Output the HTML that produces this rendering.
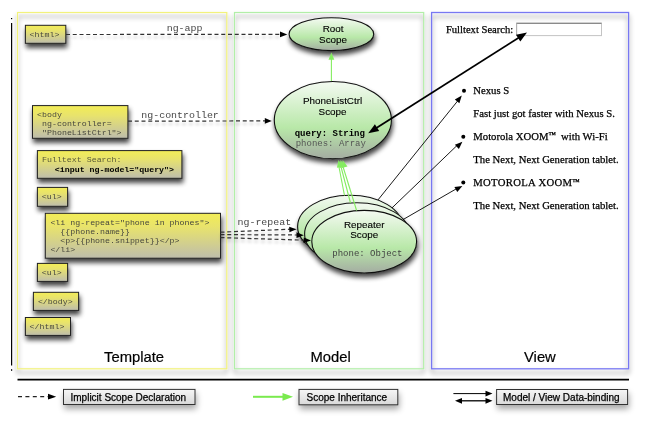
<!DOCTYPE html>
<html><head><meta charset="utf-8">
<style>
html,body{margin:0;padding:0;background:#fff;}
body{width:645px;height:425px;overflow:hidden;position:relative;}
svg{position:absolute;left:0;top:0;will-change:transform;}
.mono{font-family:"Liberation Mono",monospace;}
.sans{font-family:"Liberation Sans",sans-serif;}
.serif{font-family:"Liberation Serif",serif;}
</style></head>
<body>
<svg width="645" height="425" viewBox="0 0 645 425">
<defs>
  <linearGradient id="yg" x1="0" y1="0" x2="0" y2="1">
    <stop offset="0" stop-color="#f3ed56"/>
    <stop offset="0.3" stop-color="#e8e36c"/>
    <stop offset="1" stop-color="#bebdac"/>
  </linearGradient>
  <linearGradient id="gg" x1="0" y1="0" x2="0" y2="1">
    <stop offset="0" stop-color="#f4faf2"/>
    <stop offset="0.6" stop-color="#b8e8a8"/>
    <stop offset="1" stop-color="#a4aca2"/>
  </linearGradient>
  <linearGradient id="lg" x1="0" y1="0" x2="0" y2="1">
    <stop offset="0" stop-color="#f6f6f6"/>
    <stop offset="1" stop-color="#d9d9d9"/>
  </linearGradient>
  <filter id="sh" x="-30%" y="-30%" width="160%" height="180%">
    <feGaussianBlur in="SourceAlpha" stdDeviation="2.6"/>
    <feOffset dx="1" dy="3.5" result="b"/>
    <feComponentTransfer in="b" result="c"><feFuncA type="linear" slope="0.75"/></feComponentTransfer>
    <feMerge><feMergeNode in="c"/><feMergeNode in="SourceGraphic"/></feMerge>
  </filter>
  <filter id="psh" x="-10%" y="-10%" width="120%" height="120%">
    <feGaussianBlur in="SourceAlpha" stdDeviation="2.5"/>
    <feOffset dx="0" dy="4" result="b"/>
    <feComponentTransfer in="b" result="c"><feFuncA type="linear" slope="0.5"/></feComponentTransfer>
    <feMerge><feMergeNode in="c"/><feMergeNode in="SourceGraphic"/></feMerge>
  </filter>
  <filter id="lsh" x="-10%" y="-50%" width="120%" height="200%">
    <feGaussianBlur in="SourceAlpha" stdDeviation="1.5"/>
    <feOffset dx="0" dy="3" result="b"/>
    <feComponentTransfer in="b" result="c"><feFuncA type="linear" slope="0.25"/></feComponentTransfer>
    <feMerge><feMergeNode in="c"/><feMergeNode in="SourceGraphic"/></feMerge>
  </filter>
  <filter id="gsh" x="-30%" y="-60%" width="160%" height="250%">
    <feGaussianBlur in="SourceAlpha" stdDeviation="3"/>
    <feOffset dx="1" dy="4" result="b"/>
    <feComponentTransfer in="b" result="c"><feFuncA type="linear" slope="0.35"/></feComponentTransfer>
    <feMerge><feMergeNode in="c"/><feMergeNode in="SourceGraphic"/></feMerge>
  </filter>
  <marker id="ah" viewBox="0 0 10 10" refX="10" refY="5" markerWidth="8" markerHeight="6" orient="auto" markerUnits="userSpaceOnUse">
    <path d="M0,0 L10,5 L0,10 z" fill="#000"/>
  </marker>
</defs>

<!-- left bracket line -->
<line x1="11.6" y1="22.9" x2="11.6" y2="365.6" stroke="#000" stroke-width="1.2"/>
<rect x="11" y="18" width="1.2" height="1.2" fill="#000"/>
<rect x="11" y="369.2" width="1.2" height="1.6" fill="#000"/>

<!-- panels -->
<g filter="url(#psh)" fill="none" stroke-width="1.2">
  <rect x="17.5" y="12.5" width="209.3" height="356.3" stroke="#f2f27c"/>
  <rect x="234.5" y="12.5" width="189.2" height="356.3" stroke="#b2eea8"/>
  <rect x="431.6" y="12.5" width="197" height="356.3" stroke="#7878f2" stroke-width="1.3"/>
</g>

<!-- panel titles -->
<text x="104" y="361.7" class="sans" font-size="14.8" fill="#000" stroke="#000" stroke-width="0.2">Template</text>
<text x="310.5" y="361.7" class="sans" font-size="14.8" fill="#000" stroke="#000" stroke-width="0.2">Model</text>
<text x="524" y="361.7" class="sans" font-size="14.8" fill="#000" stroke="#000" stroke-width="0.2">View</text>

<!-- bottom rule -->
<line x1="17.5" y1="379.6" x2="629" y2="379.6" stroke="#000" stroke-width="1.6"/>

<!-- template boxes -->
<g filter="url(#sh)" fill="url(#yg)" stroke="#222" stroke-width="1">
  <rect x="25.4" y="25.3" width="40.4" height="18"/>
  <rect x="32.5" y="105.6" width="95.4" height="32.7"/>
  <rect x="37.4" y="150.6" width="144.5" height="27.7"/>
  <rect x="37.4" y="187.4" width="30.2" height="18.9"/>
  <rect x="45.3" y="213.3" width="175.2" height="44.9"/>
  <rect x="37.4" y="263.4" width="30.2" height="18"/>
  <rect x="33.4" y="292.3" width="45.2" height="18.1"/>
  <rect x="25.4" y="317.5" width="45.1" height="17.9"/>
</g>
<g class="mono" font-size="8.3" fill="#48483e">
  <text transform="translate(29.6,36.9) scale(1,0.9)" x="0" y="0">&lt;html&gt;</text>
  <text transform="translate(37.1,117) scale(1,0.9)" x="0" y="0" xml:space="preserve">&lt;body</text>
  <text transform="translate(37.1,125.7) scale(1,0.9)" x="0" y="0" xml:space="preserve"> ng-controller=</text>
  <text transform="translate(37.1,134.6) scale(1,0.9)" x="0" y="0" xml:space="preserve"> "PhoneListCtrl"&gt;</text>
  <text transform="translate(42,162) scale(1,0.9)" x="0" y="0" fill="#5a5a3a">Fulltext Search:</text>
  <text transform="translate(54.8,171.6) scale(1,0.9)" x="0" y="0" font-weight="bold" fill="#000">&lt;input ng-model="query"&gt;</text>
  <text transform="translate(41.8,199) scale(1,0.9)" x="0" y="0">&lt;ul&gt;</text>
  <text transform="translate(50.4,224.9) scale(1,0.9)" x="0" y="0" xml:space="preserve">&lt;li ng-repeat="phone in phones"&gt;</text>
  <text transform="translate(50.4,234) scale(1,0.9)" x="0" y="0" xml:space="preserve">  {{phone.name}}</text>
  <text transform="translate(50.4,242.9) scale(1,0.9)" x="0" y="0" xml:space="preserve">  &lt;p&gt;{{phone.snippet}}&lt;/p&gt;</text>
  <text transform="translate(50.4,251.6) scale(1,0.9)" x="0" y="0" xml:space="preserve">&lt;/li&gt;</text>
  <text transform="translate(41.8,275) scale(1,0.9)" x="0" y="0">&lt;ul&gt;</text>
  <text transform="translate(37.9,303.8) scale(1,0.9)" x="0" y="0">&lt;/body&gt;</text>
  <text transform="translate(29.6,328.5) scale(1,0.9)" x="0" y="0">&lt;/html&gt;</text>
</g>

<!-- ellipses -->
<g filter="url(#sh)" stroke="#111" stroke-width="1.1" fill="url(#gg)">
  <ellipse cx="331.4" cy="34.2" rx="42.3" ry="16.4"/>
  <ellipse cx="332.85" cy="120.1" rx="58.55" ry="38.6"/>
  <ellipse cx="350" cy="226.5" rx="52.4" ry="31.3"/>
  <ellipse cx="357" cy="234" rx="52.4" ry="31.3"/>
  <ellipse cx="364.2" cy="241.7" rx="52.4" ry="31.3"/>
</g>
<g class="sans" font-size="9.9" fill="#000" stroke="#000" stroke-width="0.12" text-anchor="middle">
  <text x="333.1" y="31.7">Root</text>
  <text x="333.1" y="42.6">Scope</text>
  <text x="332.6" y="104">PhoneListCtrl</text>
  <text x="332.6" y="115.3">Scope</text>
  <text x="364.2" y="227.8">Repeater</text>
  <text x="364.2" y="238.4">Scope</text>
</g>
<g class="mono" font-size="9">
  <text x="294.7" y="136.4" font-weight="bold" fill="#000">query: String</text>
  <text x="295.7" y="146" fill="#555">phones: Array</text>
  <text x="332.3" y="256.2" fill="#444">phone: Object</text>
</g>

<!-- dashed connectors -->
<g stroke="#333" stroke-width="1.2" stroke-dasharray="4,2.75" fill="none" filter="url(#lsh)">
  <line x1="66" y1="34.5" x2="281" y2="34.4"/>
  <line x1="128" y1="121.2" x2="266" y2="120.9"/>
  <line x1="220.5" y1="232.2" x2="290" y2="229.2"/>
  <line x1="220.5" y1="234.6" x2="297" y2="235"/>
  <line x1="220.5" y1="237.6" x2="305" y2="240.2"/>
</g>
<g fill="#000">
  <path d="M287.3,34.4 L280.0,37.2 L280.0,31.6 z"/>
  <path d="M271.8,120.9 L264.8,123.8 L264.8,118.0 z"/>
  <path d="M296.6,229.2 L289.4,232.3 L289.2,226.7 z"/>
  <path d="M303.8,235.2 L296.5,237.9 L296.5,232.3 z"/>
  <path d="M311.0,240.4 L303.6,243.0 L303.8,237.4 z"/>
</g>
<g class="mono" font-size="9.95" fill="#484848">
  <text x="166.7" y="31">ng-app</text>
  <text x="141.3" y="117.7">ng-controller</text>
  <text x="237.5" y="224.7">ng-repeat</text>
</g>

<!-- green inheritance arrows -->
<g stroke="#84ec60" stroke-width="1.1">
  <line x1="331.4" y1="81" x2="331.4" y2="58"/>
  <line x1="344.5" y1="195.5" x2="338.8" y2="166"/>
  <line x1="350.5" y1="203" x2="340.8" y2="166"/>
  <line x1="356.6" y1="210.5" x2="342.8" y2="166"/>
</g>
<g fill="#84ec60">
  <path d="M331.4,52.4 L334.3,59.8 L328.5,59.8 z"/>
  <path d="M338.5,160.0 L342.6,166.8 L336.9,167.8 z"/>
  <path d="M340.6,160.0 L345.1,166.6 L339.4,167.9 z"/>
  <path d="M342.7,160.0 L347.5,166.4 L341.9,167.9 z"/>
</g>

<!-- view content -->
<text x="445.9" y="32.5" class="serif" font-size="10.6" fill="#000" stroke="#000" stroke-width="0.25">Fulltext Search:</text>
<rect x="516.5" y="23.1" width="85" height="12.5" fill="#fff" stroke="#c4c4c4" stroke-width="1"/>
<line x1="516.5" y1="23.4" x2="601.5" y2="23.4" stroke="#8a8a8a" stroke-width="1.1"/>
<line x1="516.7" y1="23.1" x2="516.7" y2="35.6" stroke="#a8a8a8" stroke-width="0.8"/>
<g class="serif" font-size="10.7" fill="#000" stroke="#000" stroke-width="0.25">
  <text x="473.3" y="93.8">Nexus S</text>
  <text x="473.3" y="116.5">Fast just got faster with Nexus S.</text>
  <text x="473.3" y="139.8" xml:space="preserve">Motorola XOOM<tspan font-size="7.5" dy="-2.5">™</tspan><tspan dy="2.5">  with Wi-Fi</tspan></text>
  <text x="473.3" y="162.7">The Next, Next Generation tablet.</text>
  <text x="473.3" y="186" letter-spacing="0.3">MOTOROLA XOOM<tspan font-size="7.5" dy="-2.5">™</tspan></text>
  <text x="473.3" y="208.7">The Next, Next Generation tablet.</text>
</g>
<g fill="#000">
  <circle cx="464" cy="90.7" r="2"/>
  <circle cx="463.3" cy="136.7" r="2"/>
  <circle cx="463.3" cy="182.4" r="2"/>
</g>

<!-- view -> repeater lines -->
<g stroke="#000" stroke-width="0.9">
  <line x1="378" y1="199.9" x2="458" y2="100.5"/>
  <line x1="392" y1="207.9" x2="457" y2="145.5"/>
  <line x1="403" y1="219.6" x2="456" y2="189"/>
</g>
<g fill="#000">
  <path d="M461.8,95.5 L459.4,103.2 L454.8,99.5 z"/>
  <path d="M462.4,141.8 L458.9,149.0 L454.9,144.8 z"/>
  <path d="M462.4,185.9 L457.3,192.1 L454.4,187.1 z"/>
</g>

<!-- data binding thick arrow -->
<line x1="374" y1="129.5" x2="521" y2="36.3" stroke="#000" stroke-width="1.8"/>
<path d="M368.2,133.3 L374.9,124.3 L379.2,131.1 z" fill="#000"/>
<path d="M527.0,32.5 L520.3,41.5 L516.0,34.7 z" fill="#000"/>

<!-- legend -->
<line x1="18" y1="396.7" x2="49" y2="396.7" stroke="#222" stroke-width="1.2" stroke-dasharray="4,3.4"/>
<path d="M56.2,396.7 L48,393.8 L48,399.6 z" fill="#000"/>
<line x1="253" y1="396.8" x2="285" y2="396.8" stroke="#7aea4e" stroke-width="2"/>
<path d="M293,396.8 L282.5,392.9 L282.5,400.7 z" fill="#7aea4e"/>
<line x1="453.4" y1="393.6" x2="487" y2="393.6" stroke="#000" stroke-width="1"/>
<path d="M492.5,393.6 L485.5,390.7 L485.5,396.5 z" fill="#000"/>
<line x1="460" y1="400.8" x2="487" y2="400.8" stroke="#000" stroke-width="1.3"/>
<path d="M492.5,400.8 L485.5,397.9 L485.5,403.7 z" fill="#000"/>
<path d="M455,400.8 L462,397.9 L462,403.7 z" fill="#000"/>

<g filter="url(#gsh)" fill="url(#lg)" stroke="#333" stroke-width="1">
  <rect x="63.5" y="389.4" width="131.5" height="15.1"/>
  <rect x="299" y="389.4" width="98.8" height="15.4"/>
  <rect x="496.6" y="389.5" width="131" height="15"/>
</g>
<g class="sans" font-size="10" fill="#000" stroke="#000" stroke-width="0.25">
  <text x="70.5" y="400.6">Implicit Scope Declaration</text>
  <text x="306.5" y="400.8">Scope Inheritance</text>
  <text x="503" y="400.7">Model / View Data-binding</text>
</g>
</svg>
</body></html>
